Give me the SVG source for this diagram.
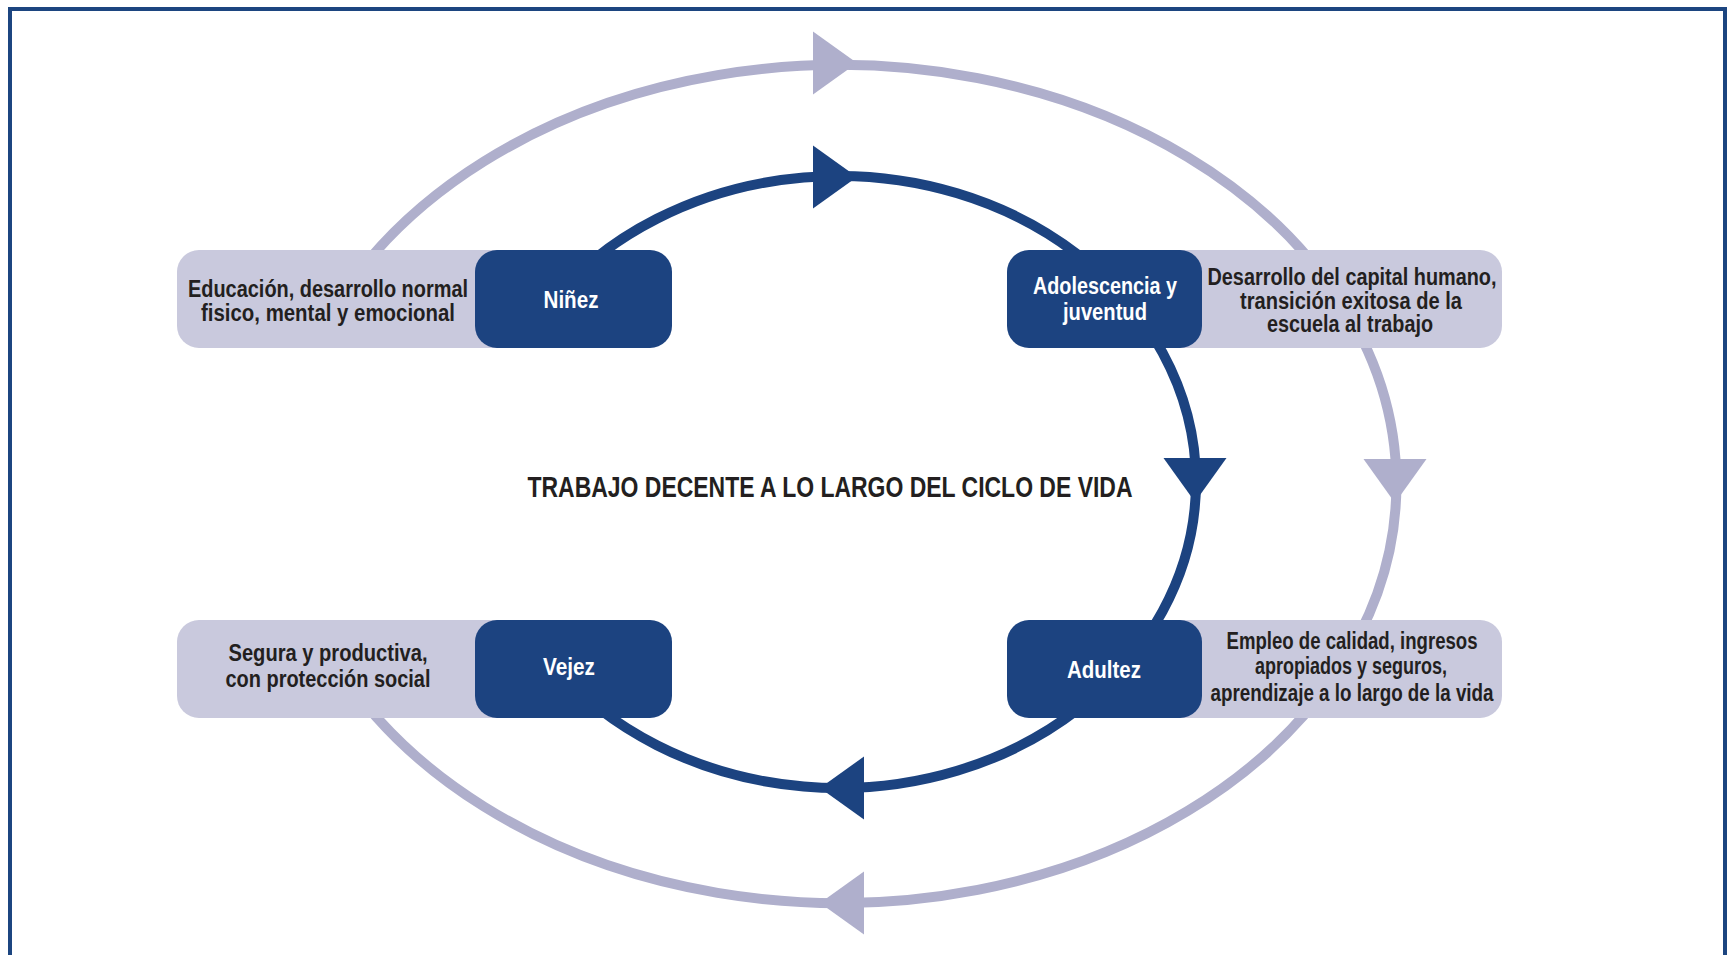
<svg xmlns="http://www.w3.org/2000/svg" xmlns:xlink="http://www.w3.org/1999/xlink" width="1731" height="955" viewBox="0 0 1731 955">
<style>
.bg{fill:#ffffff}
.frame{fill:none;stroke:#1c4580;stroke-width:4}
.ring-dark{fill:none;stroke:#1c4380;stroke-width:10}
.ring-light{fill:none;stroke:#afafcc;stroke-width:10}
.ah-dark{fill:#1c4380}
.ah-light{fill:#afafcc}
.lbox{fill:#c9c9dd}
.dbox{fill:#1c4380}
.t{font-family:"Liberation Sans",Arial,sans-serif;font-weight:bold;text-anchor:middle}
.dt{fill:#231f20;font-size:23px}
.wt{fill:#ffffff;font-size:23px}
.title{fill:#231f20;font-size:29px}
</style>
<defs>
<path id="ah" d="M0,0 L-44,-31.5 L-44,31.5 Z"/>
</defs>
<rect class="bg" x="0" y="0" width="1731" height="955"/>
<rect class="frame" x="10" y="9" width="1715" height="980"/>

<g id="connectors">
<path class="ring-light" d="M339,300 A557,419 0 1 1 339,668"/>
<path class="ring-dark" d="M552,300 A357,306 0 1 1 552,664"/>
<use href="#ah" class="ah-light" transform="translate(857,63)"/>
<use href="#ah" class="ah-dark" transform="translate(857,177)"/>
<use href="#ah" class="ah-light" transform="translate(1395,503) rotate(90)"/>
<use href="#ah" class="ah-dark" transform="translate(1195,502) rotate(90)"/>
<use href="#ah" class="ah-light" transform="translate(820,903) rotate(180)"/>
<use href="#ah" class="ah-dark" transform="translate(820,788) rotate(180)"/>
</g>

<g id="ninez">
<rect class="lbox" x="177" y="250" width="460" height="98" rx="22"/>
<rect class="dbox" x="475" y="250" width="197" height="98" rx="22"/>
<text class="t dt" x="328" y="297" textLength="280" lengthAdjust="spacingAndGlyphs">Educación, desarrollo normal</text>
<text class="t dt" x="328" y="321" textLength="254" lengthAdjust="spacingAndGlyphs">fisico, mental y emocional</text>
<text class="t wt" x="571" y="308" textLength="55" lengthAdjust="spacingAndGlyphs">Niñez</text>
</g>

<g id="adolescencia">
<rect class="lbox" x="1050" y="250" width="452" height="98" rx="22"/>
<rect class="dbox" x="1007" y="250" width="195" height="98" rx="22"/>
<text class="t wt" x="1105" y="294" textLength="144" lengthAdjust="spacingAndGlyphs">Adolescencia y</text>
<text class="t wt" x="1105" y="320" textLength="84" lengthAdjust="spacingAndGlyphs">juventud</text>
<text class="t dt" x="1352" y="285" textLength="289" lengthAdjust="spacingAndGlyphs">Desarrollo del capital humano,</text>
<text class="t dt" x="1351" y="309" textLength="222" lengthAdjust="spacingAndGlyphs">transición exitosa de la</text>
<text class="t dt" x="1350" y="332" textLength="166" lengthAdjust="spacingAndGlyphs">escuela al trabajo</text>
</g>

<g id="vejez">
<rect class="lbox" x="177" y="620" width="460" height="98" rx="22"/>
<rect class="dbox" x="475" y="620" width="197" height="98" rx="22"/>
<text class="t dt" x="328" y="661" textLength="199" lengthAdjust="spacingAndGlyphs">Segura y productiva,</text>
<text class="t dt" x="328" y="687" textLength="205" lengthAdjust="spacingAndGlyphs">con protección social</text>
<text class="t wt" x="569" y="675" textLength="52" lengthAdjust="spacingAndGlyphs">Vejez</text>
</g>

<g id="adultez">
<rect class="lbox" x="1050" y="620" width="452" height="98" rx="22"/>
<rect class="dbox" x="1007" y="620" width="195" height="98" rx="22"/>
<text class="t wt" x="1104" y="678" textLength="74" lengthAdjust="spacingAndGlyphs">Adultez</text>
<text class="t dt" x="1352" y="649" textLength="251" lengthAdjust="spacingAndGlyphs">Empleo de calidad, ingresos</text>
<text class="t dt" x="1351" y="674" textLength="192" lengthAdjust="spacingAndGlyphs">apropiados y seguros,</text>
<text class="t dt" x="1352" y="701" textLength="283" lengthAdjust="spacingAndGlyphs">aprendizaje a lo largo de la vida</text>
</g>

<g id="title">
<text class="t title" x="830" y="497" textLength="605" lengthAdjust="spacingAndGlyphs">TRABAJO DECENTE A LO LARGO DEL CICLO DE VIDA</text>
</g>
</svg>
